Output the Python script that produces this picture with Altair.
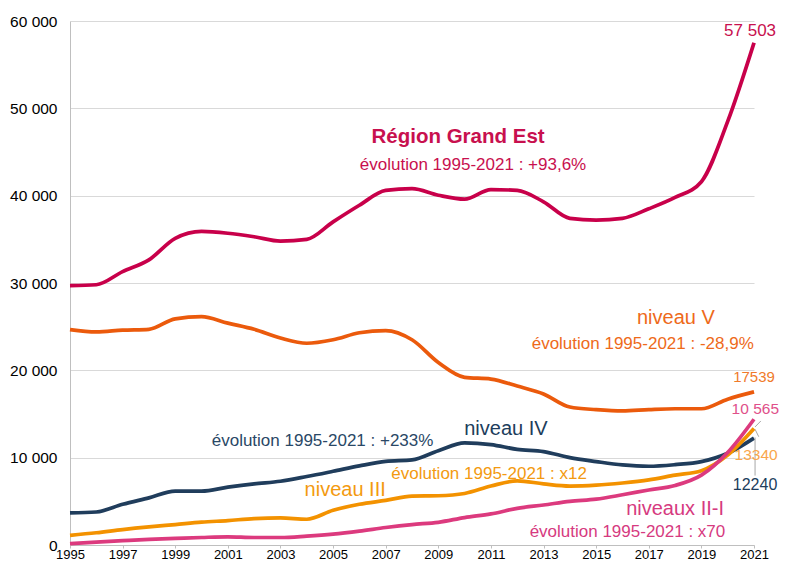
import altair as alt
import pandas as pd

years = list(range(1995, 2022))
grand_est = [29700, 29800, 31300, 32650, 35100, 35900, 35700, 35300, 34800, 35000,
             37000, 38900, 40600, 40800, 40050, 39600, 40700, 40600, 39300, 37400,
             37200, 37400, 38500, 39800, 41600, 48500, 57503]
niveau_v = [24670, 24400, 24600, 24700, 25900, 26150, 25400, 24700, 23700, 23100,
            23500, 24300, 24550, 23500, 20900, 19200, 19000, 18200, 17300, 15800,
            15500, 15350, 15500, 15600, 15600, 16700, 17539]
niveau_iv = [3676, 3780, 4660, 5400, 6170, 6170, 6620, 7000, 7300, 7840,
             8440, 9060, 9580, 9750, 10800, 11700, 11500, 10950, 10700, 10000,
             9550, 9170, 9020, 9200, 9550, 10500, 12240]
niveau_iii = [1112, 1400, 1770, 2080, 2340, 2610, 2800, 3020, 3100, 2950,
              3980, 4660, 5110, 5600, 5640, 5900, 6750, 7350, 7000, 6750,
              6850, 7100, 7450, 8000, 8500, 10300, 13340]
niveaux_ii_i = [151, 340, 490, 640, 750, 860, 940, 860, 860, 1020,
                1250, 1590, 2000, 2340, 2600, 3140, 3560, 4200, 4580, 5000,
                5250, 5750, 6300, 6820, 8000, 10600, 14400]

series_names = ["Région Grand Est", "niveau V", "niveau IV", "niveau III", "niveaux II-I"]
series_values = [grand_est, niveau_v, niveau_iv, niveau_iii, niveaux_ii_i]
series_colors = ["#C8004A", "#EB5A0C", "#203D5C", "#F39200", "#DC3A7E"]

rows = []
for name, vals in zip(series_names, series_values):
    for y, v in zip(years, vals):
        rows.append({"year": y, "value": v, "serie": name})
df = pd.DataFrame(rows)

# annotations (positions in data units)
ann_text = ["évolution 1995-2021 : +93,6%", "57 503",
            "niveau V", "évolution 1995-2021 : -28,9%", "17539",
            "niveau IV", "évolution 1995-2021 : +233%", "12240",
            "niveau III", "évolution 1995-2021 : x12", "13340",
            "niveaux II-I", "évolution 1995-2021 : x70", "10 565"]
ann_x = [2010.32, 2020.85, 2018.03, 2016.77, 2021.0, 2011.57, 2004.6, 2021.04,
         2005.46, 2010.93, 2021.08, 2018.0, 2016.19, 2021.05]
ann_y = [43480, 58900, 26020, 23020, 19240, 13330, 11930, 6820,
         6300, 8140, 10300, 4160, 1510, 15520]
ann_color = ["#C8104E", "#C8104E", "#EE6A1A", "#EE6A1A", "#F07A2A",
             "#203D5C", "#2A4866", "#203D5C",
             "#F39A10", "#F39A10", "#F9A64B",
             "#D63A80", "#D63A80", "#E0508A"]
ann_size = [17, 17, 20, 17, 15, 20, 17, 16, 20, 17, 15.5, 20, 17, 15.5]
ann_df = pd.DataFrame({"t": ann_text, "x": ann_x, "y": ann_y, "c": ann_color, "s": ann_size})

title_df = pd.DataFrame({"t": ["Région Grand Est"], "x": [2009.75], "y": [46740]})

lead_x = [2021.04, 2021.04, 2021.04]
lead_x2 = [2021.26, 2021.18, 2021.04]
lead_y = [13520, 13250, 12310]
lead_y2 = [14200, 12400, 7950]
lead_df = pd.DataFrame({"x": lead_x, "x2": lead_x2, "y": lead_y, "y2": lead_y2})

FONT = "Liberation Sans"

xscale = alt.Scale(domain=[1995, 2021], nice=False, zero=False)
yscale = alt.Scale(domain=[0, 60000], nice=False)

xaxis = alt.Axis(values=years, format="d",
                 labelExpr="datum.value % 2 == 1 ? datum.label : ''",
                 grid=False, domainColor="#bfbfbf", tickColor="#bfbfbf", tickSize=3,
                 labelFontSize=13, labelColor="#000000", labelPadding=0,
                 labelOverlap=False, labelFlush=False, labelFont=FONT, title=None)
yaxis = alt.Axis(values=[0, 10000, 20000, 30000, 40000, 50000, 60000],
                 labelExpr="replace(format(datum.value, ','), ',', ' ')",
                 grid=True, gridColor="#d9d9d9", gridWidth=1.2,
                 domainColor="#bfbfbf", ticks=False, labelPadding=13,
                 labelFontSize=15.5, labelColor="#000000", labelFont=FONT, title=None)

layers = []
for i, (name, col) in enumerate(zip(series_names, series_colors)):
    if i == 0:
        kw = dict(x=alt.X("year:Q", scale=xscale, axis=xaxis),
                  y=alt.Y("value:Q", scale=yscale, axis=yaxis))
    else:
        kw = dict(x=alt.X("year:Q", scale=xscale),
                  y=alt.Y("value:Q", scale=yscale))
    layers.append(
        alt.Chart(df).transform_filter(alt.datum.serie == name)
        .mark_line(color=col, strokeWidth=3.7, interpolate="monotone", clip=False)
        .encode(**kw)
    )

leaders = alt.Chart(lead_df).mark_rule(color="#a6a6a6", strokeWidth=1).encode(
    x="x:Q", x2="x2:Q", y="y:Q", y2="y2:Q")

texts = alt.Chart(ann_df).mark_text(font=FONT, align="center", baseline="middle").encode(
    x="x:Q", y="y:Q", text="t:N",
    color=alt.Color("c:N", scale=None),
    size=alt.Size("s:Q", scale=None))

title_txt = alt.Chart(title_df).mark_text(font=FONT, fontWeight="bold", fontSize=20.5,
                                          color="#C8104E", align="center",
                                          baseline="middle").encode(
    x="x:Q", y="y:Q", text="t:N")

chart = alt.layer(*layers, leaders, texts, title_txt).properties(
    width=684, height=524,
    autosize=alt.AutoSizeParams(type="none"),
    padding={"left": 62, "top": 13, "right": 25, "bottom": 16},
    background="white",
).configure_view(stroke=None)

chart.save("out.html", embed_options={"renderer": "svg", "actions": False})
